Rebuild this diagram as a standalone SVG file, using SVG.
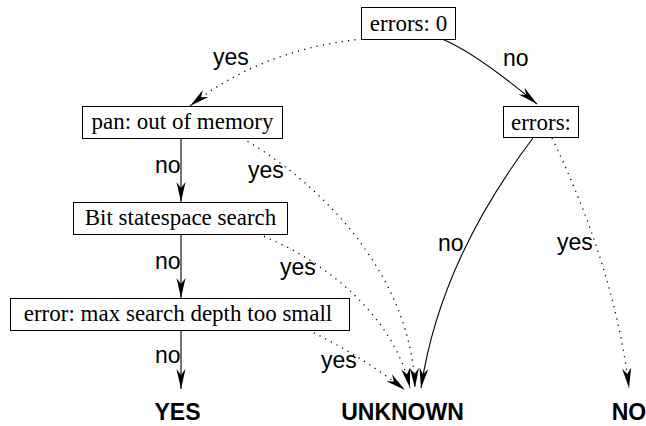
<svg xmlns="http://www.w3.org/2000/svg" width="646" height="426" viewBox="0 0 646 426">
<style>
.box{fill:#fff;stroke:#000;stroke-width:1}
.nt{font-family:"Liberation Serif","Times New Roman",serif;font-size:23px;text-anchor:middle;fill:#000}
.lb{font-family:"Liberation Sans",Arial,sans-serif;font-size:23px;fill:#000}
.term{font-family:"Liberation Sans",Arial,sans-serif;font-size:23px;font-weight:bold;text-anchor:middle;fill:#000}
.solid{fill:none;stroke:#000;stroke-width:1.1;marker-end:url(#ah)}
.dot{fill:none;stroke:#000;stroke-width:1.3;stroke-dasharray:1.2 5.2;marker-end:url(#ah)}
</style>
<defs>
<marker id="ah" markerUnits="userSpaceOnUse" markerWidth="24" markerHeight="12" viewBox="-21 -6 22 12" refX="0" refY="0" orient="auto">
<path d="M0,0 L-20,-4.5 L-14,0 L-20,4.5 Z" fill="#000"/>
</marker>
</defs>
<g id="connectors">
<path class="dot" d="M362,39 Q260,50 190,106"/>
<path class="solid" d="M442,39 Q476,53 537,104"/>
<path class="solid" d="M181,138 L181,202"/>
<path class="solid" d="M181,234 L181,298"/>
<path class="solid" d="M181,330 L181,389"/>
<path class="dot" d="M242,138 C340,195 412,290 415,388"/>
<path class="dot" d="M258,234 C330,262 395,320 410,388"/>
<path class="dot" d="M308,330 Q360,355 405,390"/>
<path class="solid" d="M533,138 Q440,261 421,388"/>
<path class="dot" d="M552,138 Q614.6,268.5 629,388"/>
<text class="lb" x="213" y="65">yes</text>
<text class="lb" x="503" y="66">no</text>
<text class="lb" x="155" y="173">no</text>
<text class="lb" x="248" y="178">yes</text>
<text class="lb" x="155" y="269">no</text>
<text class="lb" x="280" y="275">yes</text>
<text class="lb" x="155" y="363">no</text>
<text class="lb" x="321" y="368">yes</text>
<text class="lb" x="438" y="251">no</text>
<text class="lb" x="557" y="250">yes</text>
</g>
<g id="errors0">
<rect class="box" x="361.5" y="7.5" width="94" height="32"/>
<text class="nt" x="408.5" y="31">errors: 0</text>
</g>
<g id="errors">
<rect class="box" x="503.5" y="106.5" width="75" height="31"/>
<text class="nt" x="541" y="129.5">errors:</text>
</g>
<g id="pan">
<rect class="box" x="82.5" y="106.5" width="200" height="32"/>
<text class="nt" x="182.5" y="129">pan: out of memory</text>
</g>
<g id="bit">
<rect class="box" x="73.5" y="202.5" width="214" height="32"/>
<text class="nt" x="180.5" y="225">Bit statespace search</text>
</g>
<g id="depth">
<rect class="box" x="10.5" y="298.5" width="339" height="32"/>
<text class="nt" x="178" y="321">error: max search depth too small</text>
</g>
<g id="yes">
<text class="term" x="177.5" y="420">YES</text>
</g>
<g id="unknown">
<text class="term" x="402.5" y="420">UNKNOWN</text>
</g>
<g id="no">
<text class="term" x="629" y="420">NO</text>
</g>
</svg>
